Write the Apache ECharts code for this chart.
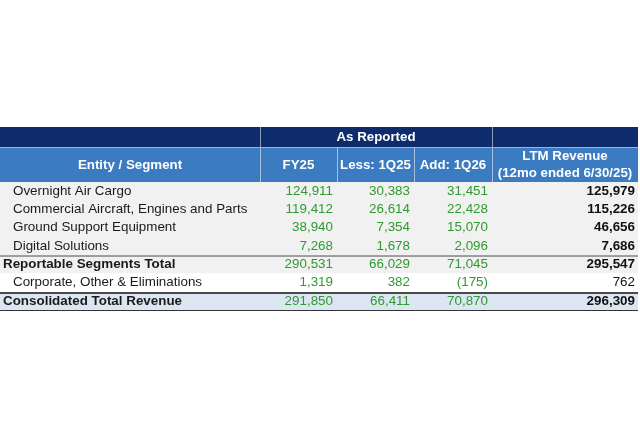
<!DOCTYPE html>
<html><head><meta charset="utf-8">
<script src="https://cdn.jsdelivr.net/npm/echarts@6/dist/echarts.min.js"></script>
<style>html,body{margin:0;padding:0;background:#fff}#c{width:640px;height:440px}</style>
</head><body><div id="c"></div>
<script>
// ---------- data ----------
const groupHeader = 'As Reported';
const columnHeaders = ['Entity / Segment', 'FY25', 'Less: 1Q25', 'Add: 1Q26', 'LTM Revenue\n(12mo ended 6/30/25)'];
const rowLabels = [
  'Overnight Air Cargo',
  'Commercial Aircraft, Engines and Parts',
  'Ground Support Equipment',
  'Digital Solutions',
  'Reportable Segments Total',
  'Corporate, Other & Eliminations',
  'Consolidated Total Revenue'
];
const fy25     = [124911, 119412, 38940, 7268, 290531, 1319, 291850];
const less1Q25 = [30383, 26614, 7354, 1678, 66029, 382, 66411];
const add1Q26  = [31451, 22428, 15070, 2096, 71045, -175, 70870];
const ltm      = [125979, 115226, 46656, 7686, 295547, 762, 296309];

// ---------- layout & style ----------
const COL_EDGES = [0, 260, 337, 414, 492, 638];
const NAVY_TOP = 127, NAVY_BOT = 147, HEAD_BOT = 182;
const ROW_EDGES = [182, 200, 218.5, 237, 255.5, 273.5, 292, 311];
const FONT = '"Liberation Sans", Arial, sans-serif';
const FS = 13.4;
const HFS = 13.3;
const GREEN = '#2f9a2f';
const NAVY = '#0e2b6c';
const BLUE = '#3b7bc2';
const ROW_STYLE = [
  {bg:'#f1f1f1', indent:true,  bold:false, ltmBold:true},
  {bg:'#f1f1f1', indent:true,  bold:false, ltmBold:true},
  {bg:'#f1f1f1', indent:true,  bold:false, ltmBold:true},
  {bg:'#f1f1f1', indent:true,  bold:false, ltmBold:true},
  {bg:'#f1f1f1', indent:false, bold:true,  ltmBold:true, topLine:1},
  {bg:'#ffffff', indent:true,  bold:false, ltmBold:false},
  {bg:'#dce6f2', indent:false, bold:true,  ltmBold:true, topLine:2, bottomLine:1}
];

function fmt(v) {
  const s = Math.abs(v).toLocaleString('en-US');
  return v < 0 ? '(' + s + ')' : s;
}
function font(bold, size) { return (bold ? 'bold ' : '') + (size || FS) + 'px ' + FONT; }

function renderHeader(params, api) {
  const c = (x, y) => api.coord([x, y]);
  const L = COL_EDGES[0], R = COL_EDGES[5];
  const ch = [];
  let a = c(L, NAVY_TOP), b = c(R, NAVY_BOT);
  ch.push({type:'rect', shape:{x:a[0], y:a[1], width:b[0]-a[0], height:b[1]-a[1]}, style:{fill:NAVY}});
  a = c(L, NAVY_BOT); b = c(R, HEAD_BOT);
  ch.push({type:'rect', shape:{x:a[0], y:a[1], width:b[0]-a[0], height:b[1]-a[1]}, style:{fill:BLUE}});
  [1, 4].forEach(k => {
    const p = c(COL_EDGES[k], NAVY_TOP), q = c(COL_EDGES[k], NAVY_BOT);
    ch.push({type:'line', shape:{x1:p[0]+0.5, y1:p[1], x2:q[0]+0.5, y2:q[1]}, style:{stroke:'#8c98b4', lineWidth:1}});
  });
  {
    const p = c(L, NAVY_BOT), q = c(R, NAVY_BOT);
    ch.push({type:'line', shape:{x1:p[0], y1:p[1]+0.5, x2:q[0], y2:q[1]+0.5}, style:{stroke:'#9fb3d3', lineWidth:1}});
  }
  [1, 2, 3, 4].forEach(k => {
    const p = c(COL_EDGES[k], NAVY_BOT), q = c(COL_EDGES[k], HEAD_BOT);
    ch.push({type:'line', shape:{x1:p[0]+0.5, y1:p[1], x2:q[0]+0.5, y2:q[1]}, style:{stroke:'#a9bfdc', lineWidth:1}});
  });
  const g = c((COL_EDGES[1] + COL_EDGES[4]) / 2, (NAVY_TOP + NAVY_BOT) / 2);
  ch.push({type:'text', style:{text:groupHeader, x:g[0], y:g[1], textAlign:'center', textVerticalAlign:'middle', font:font(true, HFS), fill:'#ffffff'}});
  for (let k = 0; k < 5; k++) {
    const p = c((COL_EDGES[k] + COL_EDGES[k+1]) / 2, (NAVY_BOT + HEAD_BOT) / 2 + 0.5);
    ch.push({type:'text', style:{text:columnHeaders[k], x:p[0], y:p[1], textAlign:'center', textVerticalAlign:'middle', font:font(true, HFS), fill:'#ffffff', lineHeight:17}});
  }
  return {type:'group', children:ch};
}

function renderRow(params, api) {
  const i = api.value(0);
  const st = ROW_STYLE[i];
  const y0 = ROW_EDGES[i], y1 = ROW_EDGES[i+1], yc = (y0 + y1) / 2;
  const c = (x, y) => api.coord([x, y]);
  const L = COL_EDGES[0], R = COL_EDGES[5];
  const ch = [];
  const a = c(L, y0), b = c(R, y1);
  ch.push({type:'rect', shape:{x:a[0], y:a[1], width:b[0]-a[0], height:b[1]-a[1]}, style:{fill:st.bg}});
  const lp = c(L + (st.indent ? 13 : 3), yc);
  ch.push({type:'text', style:{text:rowLabels[i], x:lp[0], y:lp[1], textAlign:'left', textVerticalAlign:'middle', font:font(st.bold), fill:'#1a1a1a'}});
  const vals = [api.value(1), api.value(2), api.value(3), api.value(4)];
  for (let k = 0; k < 4; k++) {
    const p = c(COL_EDGES[k+2] - (k === 3 ? 3 : 4), yc);
    const isLtm = k === 3;
    ch.push({type:'text', style:{text:fmt(vals[k]), x:p[0], y:p[1], textAlign:'right', textVerticalAlign:'middle',
      font:font(isLtm ? st.ltmBold : false), fill:isLtm ? '#111111' : GREEN}});
  }
  if (st.topLine) {
    const p = c(L, y0), q = c(R, y0);
    ch.push({type:'line', shape:{x1:p[0], y1:p[1] + st.topLine/2, x2:q[0], y2:q[1] + st.topLine/2}, style:{stroke:'#4a4a4a', lineWidth:st.topLine}});
  }
  if (st.bottomLine) {
    const p = c(L, y1), q = c(R, y1);
    ch.push({type:'line', shape:{x1:p[0], y1:p[1] - 0.5, x2:q[0], y2:q[1] - 0.5}, style:{stroke:'#333333', lineWidth:1}});
  }
  return {type:'group', children:ch};
}

const rowData = rowLabels.map((l, i) => [i, fy25[i], less1Q25[i], add1Q26[i], ltm[i]]);

const chart = echarts.init(document.getElementById('c'), null, {renderer:'canvas'});
chart.setOption({
  animation:false,
  backgroundColor:'#ffffff',
  grid:{left:0, right:0, top:0, bottom:0},
  xAxis:{type:'value', min:0, max:640, show:false},
  yAxis:{type:'value', min:0, max:440, inverse:true, show:false},
  series:[
    {type:'custom', clip:false, renderItem:renderHeader, data:[[0]], encode:{x:0, y:0}},
    {type:'custom', clip:false, renderItem:renderRow, data:rowData, encode:{x:0, y:0}}
  ]
});
</script></body></html>
